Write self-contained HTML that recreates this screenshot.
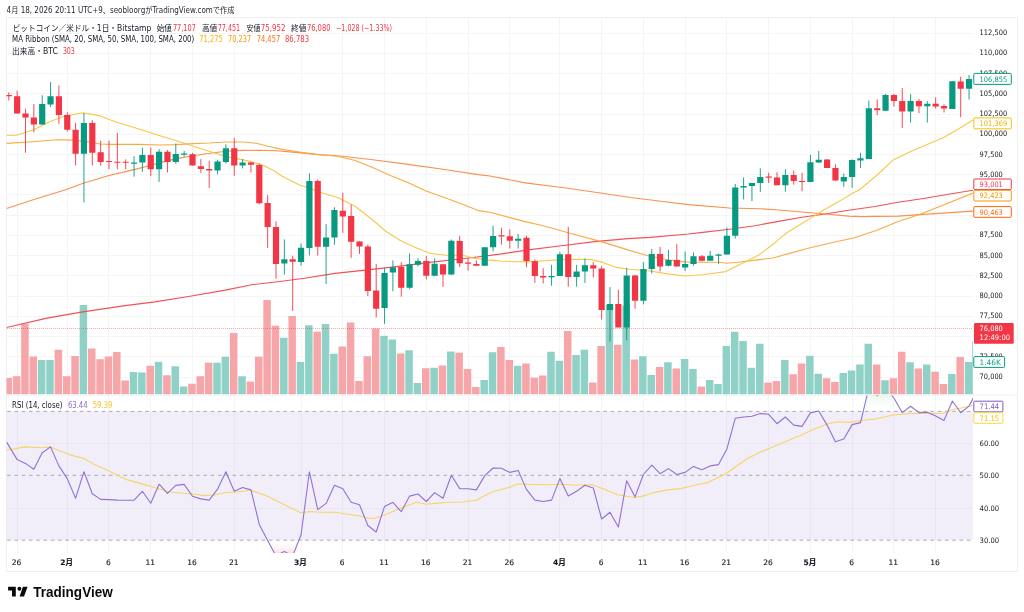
<!DOCTYPE html>
<html><head><meta charset="utf-8"><title>BTCUSD chart</title>
<style>
html,body{margin:0;padding:0;background:#fff;}
body{width:1024px;height:612px;overflow:hidden;position:relative;}
.frame{position:absolute;left:6px;top:17px;width:1010px;height:553px;border:1px solid #efeff1;}
svg{position:absolute;left:0;top:0;}
</style></head>
<body>
<div class="frame"></div>
<svg width="1024" height="612" viewBox="0 0 1024 612">
<defs>
<clipPath id="cm"><rect x="6.5" y="17.5" width="966.5" height="377.0"/></clipPath>
<clipPath id="cr"><rect x="6.5" y="395.5" width="966.5" height="157.5"/></clipPath>
<linearGradient id="gob" x1="0" y1="0" x2="0" y2="1"><stop offset="0" stop-color="#d3eed6" stop-opacity="1"/><stop offset="1" stop-color="#ffffff" stop-opacity="0"/></linearGradient>
<linearGradient id="gos" x1="0" y1="0" x2="0" y2="1"><stop offset="0" stop-color="#ffffff" stop-opacity="0"/><stop offset="1" stop-color="#f9c9cc" stop-opacity="0.9"/></linearGradient>
</defs>
<path d="M6.5 377.5H973.0 M6.5 356.5H973.0 M6.5 336.5H973.0 M6.5 316.5H973.0 M6.5 296.5H973.0 M6.5 275.5H973.0 M6.5 255.5H973.0 M6.5 235.5H973.0 M6.5 215.5H973.0 M6.5 194.5H973.0 M6.5 174.5H973.0 M6.5 154.5H973.0 M6.5 134.5H973.0 M6.5 114.5H973.0 M6.5 93.5H973.0 M6.5 73.5H973.0 M6.5 53.5H973.0 M6.5 33.5H973.0 M6.5 443.5H973.0 M6.5 508.5H973.0 M17.5 17.5V553.0 M67.5 17.5V553.0 M108.5 17.5V553.0 M150.5 17.5V553.0 M192.5 17.5V553.0 M234.5 17.5V553.0 M301.5 17.5V553.0 M342.5 17.5V553.0 M384.5 17.5V553.0 M426.5 17.5V553.0 M468.5 17.5V553.0 M509.5 17.5V553.0 M559.5 17.5V553.0 M601.5 17.5V553.0 M643.5 17.5V553.0 M685.5 17.5V553.0 M726.5 17.5V553.0 M768.5 17.5V553.0 M810.5 17.5V553.0 M852.5 17.5V553.0 M893.5 17.5V553.0 M935.5 17.5V553.0" stroke="#f5f5f6" stroke-width="1" fill="none"/>
<g clip-path="url(#cm)">
<path d="M4.5 377.9h7.5V394.4h-7.5zM12.85 376.3h7.5V394.4h-7.5zM21.2 323.7h7.5V394.4h-7.5zM29.55 356.4h7.5V394.4h-7.5zM54.6 349.8h7.5V394.4h-7.5zM62.95 376.3h7.5V394.4h-7.5zM71.3 355.9h7.5V394.4h-7.5zM88 348.4h7.5V394.4h-7.5zM96.35 359.2h7.5V394.4h-7.5zM104.7 356.4h7.5V394.4h-7.5zM113.05 352h7.5V394.4h-7.5zM121.4 380.4h7.5V394.4h-7.5zM146.45 365.8h7.5V394.4h-7.5zM163.15 375.2h7.5V394.4h-7.5zM188.2 383.7h7.5V394.4h-7.5zM196.55 376.2h7.5V394.4h-7.5zM204.9 362.8h7.5V394.4h-7.5zM229.95 332.9h7.5V394.4h-7.5zM246.65 381.6h7.5V394.4h-7.5zM255 356.8h7.5V394.4h-7.5zM263.35 299.9h7.5V394.4h-7.5zM271.7 325.7h7.5V394.4h-7.5zM288.4 315.9h7.5V394.4h-7.5zM313.45 331.8h7.5V394.4h-7.5zM338.5 346.5h7.5V394.4h-7.5zM346.85 322.5h7.5V394.4h-7.5zM355.2 381.1h7.5V394.4h-7.5zM363.55 356.3h7.5V394.4h-7.5zM371.9 328.5h7.5V394.4h-7.5zM396.95 353.5h7.5V394.4h-7.5zM422 368.2h7.5V394.4h-7.5zM438.7 365.6h7.5V394.4h-7.5zM455.4 352.8h7.5V394.4h-7.5zM463.75 369h7.5V394.4h-7.5zM472.1 387h7.5V394.4h-7.5zM497.15 347h7.5V394.4h-7.5zM505.5 359.9h7.5V394.4h-7.5zM522.2 363.6h7.5V394.4h-7.5zM530.55 377.8h7.5V394.4h-7.5zM538.9 375.6h7.5V394.4h-7.5zM563.95 331h7.5V394.4h-7.5zM589 382.4h7.5V394.4h-7.5zM597.35 346.1h7.5V394.4h-7.5zM614.05 344.8h7.5V394.4h-7.5zM630.75 359.5h7.5V394.4h-7.5zM655.8 366.9h7.5V394.4h-7.5zM672.5 368.5h7.5V394.4h-7.5zM697.55 386.5h7.5V394.4h-7.5zM764.35 382.4h7.5V394.4h-7.5zM772.7 381.1h7.5V394.4h-7.5zM789.4 374.2h7.5V394.4h-7.5zM797.75 363.6h7.5V394.4h-7.5zM822.8 378.3h7.5V394.4h-7.5zM831.15 381.9h7.5V394.4h-7.5zM872.9 364.4h7.5V394.4h-7.5zM889.6 378.3h7.5V394.4h-7.5zM897.95 351.7h7.5V394.4h-7.5zM914.65 368.5h7.5V394.4h-7.5zM931.35 371.8h7.5V394.4h-7.5zM939.7 384.1h7.5V394.4h-7.5zM956.4 357.1h7.5V394.4h-7.5z" fill="#f6a5a8"/>
<path d="M37.9 360.1h7.5V394.4h-7.5zM46.25 360.1h7.5V394.4h-7.5zM79.65 304.9h7.5V394.4h-7.5zM129.75 371.9h7.5V394.4h-7.5zM138.1 372.4h7.5V394.4h-7.5zM154.8 361.8h7.5V394.4h-7.5zM171.5 366.3h7.5V394.4h-7.5zM179.85 386.4h7.5V394.4h-7.5zM213.25 362.8h7.5V394.4h-7.5zM221.6 356.8h7.5V394.4h-7.5zM238.3 376.2h7.5V394.4h-7.5zM280.05 337.7h7.5V394.4h-7.5zM296.75 362h7.5V394.4h-7.5zM305.1 325.2h7.5V394.4h-7.5zM321.8 324.1h7.5V394.4h-7.5zM330.15 353.8h7.5V394.4h-7.5zM380.25 335.8h7.5V394.4h-7.5zM388.6 339.4h7.5V394.4h-7.5zM405.3 350.2h7.5V394.4h-7.5zM413.65 382.9h7.5V394.4h-7.5zM430.35 367.7h7.5V394.4h-7.5zM447.05 351.5h7.5V394.4h-7.5zM480.45 380h7.5V394.4h-7.5zM488.8 352.2h7.5V394.4h-7.5zM513.85 365.8h7.5V394.4h-7.5zM547.25 351.7h7.5V394.4h-7.5zM555.6 360.8h7.5V394.4h-7.5zM572.3 355h7.5V394.4h-7.5zM580.65 349.7h7.5V394.4h-7.5zM605.7 304.8h7.5V394.4h-7.5zM622.4 305.6h7.5V394.4h-7.5zM639.1 356.3h7.5V394.4h-7.5zM647.45 375.1h7.5V394.4h-7.5zM664.15 362.3h7.5V394.4h-7.5zM680.85 359.1h7.5V394.4h-7.5zM689.2 369h7.5V394.4h-7.5zM705.9 380h7.5V394.4h-7.5zM714.25 384h7.5V394.4h-7.5zM722.6 346.1h7.5V394.4h-7.5zM730.95 331.8h7.5V394.4h-7.5zM739.3 341.1h7.5V394.4h-7.5zM747.65 367.7h7.5V394.4h-7.5zM756 343.7h7.5V394.4h-7.5zM781.05 359.9h7.5V394.4h-7.5zM806.1 355.8h7.5V394.4h-7.5zM814.45 373.8h7.5V394.4h-7.5zM839.5 373.1h7.5V394.4h-7.5zM847.85 370.5h7.5V394.4h-7.5zM856.2 364.4h7.5V394.4h-7.5zM864.55 343.7h7.5V394.4h-7.5zM881.25 380.3h7.5V394.4h-7.5zM906.3 362.3h7.5V394.4h-7.5zM923 364.4h7.5V394.4h-7.5zM948.05 373.9h7.5V394.4h-7.5zM964.75 362h7.5V394.4h-7.5z" fill="#8fd1c7"/>
<path d="M972.2 341.2h1.2V394.4h-1.2z" fill="#8fd1c7"/>
<path d="M7 328.5H973.0" stroke="#F23645" stroke-width="1" stroke-dasharray="1 1" opacity="0.45"/>
<path d="M6.6 327.5 L46.9 318.1 L82.8 311.9 L125 305.6 L155 301.9 L190.1 296.3 L225.3 290.1 L251.7 284.7 L278 281.7 L304.4 278.2 L335 273.4 L363.2 270.4 L396.4 266.6 L429.7 262.4 L462.9 258.8 L500.1 254.1 L528.2 249.9 L561.4 245.8 L594.7 241.6 L627.9 238.6 L650 237.4 L688.4 234 L702.7 232.4 L729.4 229.2 L755 225.7 L778.4 221.4 L801.9 217.3 L825 214 L848.8 210.2 L875 206.5 L898.2 202.3 L925 198.2 L950 194 L973 190.2" stroke="#f3474d" stroke-width="1.1" fill="none" stroke-linejoin="round" opacity="0.95"/>
<path d="M6.6 208.5 L33.2 199.8 L66.4 189.5 L83.1 183.2 L108 175.7 L132.9 169.9 L149.5 165.8 L160 162.6 L176.6 158.6 L193.2 155.7 L209.8 153.3 L226.4 151.3 L243.1 150.4 L259.7 150.3 L276.3 150.8 L292.9 152.1 L309.5 153.6 L320 154.7 L342.8 156.2 L372.7 159.7 L407.9 164.4 L443 169.3 L478.2 174.6 L490 176 L525.1 182.9 L560.3 187.3 L595.4 192.3 L630.6 197.5 L661 201.2 L688.4 204.6 L729.4 208 L760 208.7 L778.4 210 L801.9 212 L825.3 214 L848.8 216.1 L861.6 216.6 L875 216.4 L898.2 216.1 L934.9 213.6 L973 211.1" stroke="#f98a45" stroke-width="1.1" fill="none" stroke-linejoin="round" opacity="0.95"/>
<path d="M6.5 143.4 L32.7 141.7 L57.2 139.8 L71.9 140.1 L88.2 141.7 L100 144 L111.1 144.4 L138.9 144.4 L160 145 L176.6 144.6 L193.2 143.6 L209.8 143 L226.4 142 L243.1 142 L256.3 143.3 L268 146.3 L284.6 149.9 L301.2 152.4 L317.8 154.6 L330 155.5 L337.6 156.2 L355.1 160.5 L372.7 167.6 L390.3 175.5 L407.9 182.5 L425.4 190.8 L443 197.1 L460.6 203.6 L478.2 210.6 L490 212.3 L525.1 221.6 L539.9 225 L551.5 228 L569.8 233.3 L601.3 241.6 L627.9 249.9 L647.8 255.7 L667.6 259.8 L685.1 261.9 L702.7 262.3 L720.3 262.3 L726.4 263.3 L737.9 262.3 L755.4 260.1 L773 258 L790.6 253.1 L808.2 248.2 L825 244.3 L854.3 237.7 L876.3 230.4 L898.2 221.6 L920.2 214.3 L942.2 205.5 L973 193.1" stroke="#f8a73a" stroke-width="1.1" fill="none" stroke-linejoin="round" opacity="0.95"/>
<path d="M6.5 135.2 L16.3 135.2 L32.7 130.3 L49 122.1 L65.4 115.9 L83.3 112.8 L100 115.9 L116.7 122.2 L133.3 127.2 L150 132.6 L160 135.8 L176.6 140.8 L193.2 146.3 L209.8 151.6 L226.4 156.6 L243.1 159.9 L259.7 164.1 L264.2 165.8 L273 170.3 L281.8 176 L299.4 185 L310 188.2 L320 192.2 L337.6 197.5 L355.1 206.2 L372.7 220 L385.4 231 L399.8 240.3 L413 246.6 L429.7 253.3 L446.3 255.3 L462.9 255.3 L474.5 258.3 L487.8 259.9 L500.1 261 L511.6 261.5 L528.2 261.9 L544.8 260.7 L561.4 259.6 L578.1 259.2 L591.3 259.6 L603 262.4 L616.3 267.4 L627.9 269 L650 271 L667.6 273.9 L685.1 276 L702.7 274.7 L725.6 271.6 L741.4 263.7 L759 254.9 L773 244.3 L785.3 233.8 L799.4 225 L810 218.6 L825 209.2 L839.6 201.1 L854.3 192.3 L859.3 190 L877.1 175 L893 160.1 L910.1 151.8 L934.7 141.3 L943.2 137.7 L959.2 128.5 L975 118.7" stroke="#f6c53c" stroke-width="1.1" fill="none" stroke-linejoin="round" opacity="0.95"/>
<path d="M8.8 92.4V100.5 M17.15 90.7V113.8 M25.5 108.7V152.7 M33.85 104.1V132.4 M58.9 85.4V123.8 M67.25 112.3V131.6 M75.6 122.9V165.4 M92.3 120.2V165.4 M100.65 140.7V165.6 M109 140.7V169.2 M117.35 132.9V169.2 M125.7 159.3V169.2 M150.75 147.3V176.2 M167.45 150V172.4 M192.5 152.9V165.9 M200.85 159.1V172.8 M209.2 160.7V188 M234.25 137.8V175.8 M250.95 161.9V172.5 M259.3 163.5V204.3 M267.65 194.9V248.1 M276 221.5V278.8 M292.7 255.8V311 M317.75 179.5V255.6 M342.8 192.9V232.9 M351.15 204.6V257.9 M359.5 241.1V253.9 M367.85 244.4V296.1 M376.2 264V317.5 M401.25 262.1V296.7 M426.3 255.8V279.5 M443 264V286.9 M459.7 235.9V267 M468.05 258.3V270.6 M476.4 260.4V265.7 M501.45 227.7V244.7 M509.8 229.4V248.5 M526.5 235.7V267.4 M534.85 259.5V282.9 M543.2 268.2V283.4 M568.25 226.9V286.7 M593.3 262.2V277.4 M601.65 266.1V319.6 M618.35 289.8V327.4 M635.05 274.6V308.8 M660.1 246.9V271.4 M676.8 244.1V266.5 M701.85 255V261.5 M768.65 172.8V183.1 M777 172.2V185.2 M793.7 170.8V184.7 M802.05 172.8V191.3 M827.1 159.1V167.9 M835.45 164.1V181 M877.2 99.4V115.2 M893.9 94V106.6 M902.25 88V127.9 M918.95 99V113.2 M935.65 97.3V108.6 M944 104.2V112.5 M960.7 76.7V117.3" stroke="#F23645" stroke-width="0.9" fill="none"/>
<path d="M5.7 95h6.2V96.2h-6.2zM14.05 96.3h6.2V113.6h-6.2zM22.4 113.5h6.2V117.5h-6.2zM30.75 117.5h6.2V124.6h-6.2zM55.8 96.3h6.2V115.1h-6.2zM64.15 115.1h6.2V129.8h-6.2zM72.5 129.8h6.2V153.7h-6.2zM89.2 122.9h6.2V152.7h-6.2zM97.55 152.2h6.2V162h-6.2zM105.9 160.9h6.2V162.1h-6.2zM114.25 161.65h6.2V162.85h-6.2zM122.6 161.65h6.2V162.85h-6.2zM147.65 154.9h6.2V169.2h-6.2zM164.35 151.7h6.2V162h-6.2zM189.4 154.2h6.2V165.6h-6.2zM197.75 166.3h6.2V168.9h-6.2zM206.1 168.9h6.2V170.4h-6.2zM231.15 148.3h6.2V165.6h-6.2zM247.85 162.4h6.2V164.8h-6.2zM256.2 165.1h6.2V203.3h-6.2zM264.55 203.1h6.2V227h-6.2zM272.9 226.9h6.2V264.1h-6.2zM289.6 259.2h6.2V261.8h-6.2zM314.65 181.1h6.2V246.8h-6.2zM339.7 210.8h6.2V216.6h-6.2zM348.05 216h6.2V241.7h-6.2zM356.4 241.6h6.2V246.4h-6.2zM364.75 246.4h6.2V291.1h-6.2zM373.1 290.5h6.2V308.8h-6.2zM398.15 267h6.2V287.7h-6.2zM423.2 261.1h6.2V275.8h-6.2zM439.9 264.3h6.2V274.6h-6.2zM456.6 241.1h6.2V263.2h-6.2zM464.95 262.4h6.2V263.7h-6.2zM473.3 264h6.2V265.7h-6.2zM498.35 235.2h6.2V236.4h-6.2zM506.7 236.2h6.2V240.7h-6.2zM523.4 237.8h6.2V261h-6.2zM531.75 261.2h6.2V275.9h-6.2zM540.1 275.9h6.2V277.5h-6.2zM565.15 254.3h6.2V276.9h-6.2zM590.2 265.3h6.2V268.6h-6.2zM598.55 268.6h6.2V309.9h-6.2zM615.25 303.9h6.2V327.4h-6.2zM631.95 275.6h6.2V300.7h-6.2zM657 253.9h6.2V266.5h-6.2zM673.7 259.9h6.2V266.5h-6.2zM698.75 256.3h6.2V260.7h-6.2zM765.55 176.6h6.2V177.8h-6.2zM773.9 177.6h6.2V185.2h-6.2zM790.6 174.9h6.2V181h-6.2zM798.95 180.9h6.2V182.1h-6.2zM824 159.4h6.2V167.9h-6.2zM832.35 168.1h6.2V180.6h-6.2zM874.1 108.2h6.2V110.3h-6.2zM890.8 95.1h6.2V101h-6.2zM899.15 101.1h6.2V111.5h-6.2zM915.85 101.1h6.2V106.3h-6.2zM932.55 103.8h6.2V106.4h-6.2zM940.9 106h6.2V108.6h-6.2zM957.6 81.6h6.2V88.8h-6.2z" fill="#F23645"/>
<path d="M42.2 95.2V124.6 M50.55 82.1V107.1 M83.95 113.1V202.4 M134.05 156.2V176.7 M142.4 147.6V171.8 M159.1 149.2V181.9 M175.8 143.5V163.9 M184.15 150.8V156.6 M217.55 159.7V174.4 M225.9 144.4V163.5 M242.6 159.1V168.4 M284.35 239.4V274.5 M301.05 243.5V265.7 M309.4 173.3V255.4 M326.1 223.9V284 M334.45 207.3V244.6 M384.55 268.1V323.8 M392.9 260.4V291.3 M409.6 253.4V289.2 M417.95 258.3V266.5 M434.65 258.3V276.3 M451.35 239.5V275.1 M484.75 247.2V265.7 M493.1 225.6V251.3 M518.15 233.8V248.5 M551.55 264.9V285.7 M559.9 251.9V275.9 M576.6 264.9V286.7 M584.95 258.4V282.9 M610 287.1V341.6 M626.7 267.8V340.3 M643.4 262.1V304.4 M651.75 249V273.5 M668.45 249.8V266.5 M685.15 251.5V271 M693.5 252.5V265.6 M710.2 250.9V260.7 M718.55 253.7V264 M726.9 227.5V254.6 M735.25 183.9V238.6 M743.6 177.4V199.4 M751.95 183.1V201.1 M760.3 168.4V191.8 M785.35 169.2V191.8 M810.4 154.8V182 M818.75 150.9V163 M843.8 173.5V186.8 M852.15 159.3V187.7 M860.5 152.8V168 M868.85 100.5V158.9 M885.55 94V110.8 M910.6 94.1V122.5 M927.3 101.1V122.5 M952.35 80.9V109 M969.05 75V99.5" stroke="#089981" stroke-width="0.9" fill="none"/>
<path d="M39.1 104.1h6.2V124.6h-6.2zM47.45 96.3h6.2V104.5h-6.2zM80.85 122.9h6.2V153.7h-6.2zM130.95 162.5h6.2V163.7h-6.2zM139.3 154.9h6.2V162.6h-6.2zM156 151.7h6.2V169.2h-6.2zM172.7 154.1h6.2V162h-6.2zM181.05 153.5h6.2V154.7h-6.2zM214.45 161.4h6.2V170.5h-6.2zM222.8 148.3h6.2V161.9h-6.2zM239.5 162.4h6.2V165.6h-6.2zM281.25 259.2h6.2V263.4h-6.2zM297.95 247.7h6.2V261.9h-6.2zM306.3 181.1h6.2V248.1h-6.2zM323 237.4h6.2V246.8h-6.2zM331.35 210h6.2V237.6h-6.2zM381.45 273.1h6.2V308h-6.2zM389.8 267.3h6.2V272.5h-6.2zM406.5 264.3h6.2V287.7h-6.2zM414.85 261.1h6.2V264.8h-6.2zM431.55 263.7h6.2V275.8h-6.2zM448.25 240.8h6.2V274.6h-6.2zM481.65 247.2h6.2V265.7h-6.2zM490 235.9h6.2V247.2h-6.2zM515.05 238.7h6.2V240.7h-6.2zM548.45 275.9h6.2V277.2h-6.2zM556.8 254.3h6.2V275.9h-6.2zM573.5 271.5h6.2V276.9h-6.2zM581.85 265.3h6.2V271.5h-6.2zM606.9 303.9h6.2V309.9h-6.2zM623.6 275.6h6.2V327.6h-6.2zM640.3 269.1h6.2V300.7h-6.2zM648.65 253.9h6.2V269.1h-6.2zM665.35 259.9h6.2V265.8h-6.2zM682.05 263.9h6.2V267.4h-6.2zM690.4 256.3h6.2V264h-6.2zM707.1 255.8h6.2V260.7h-6.2zM715.45 254.6h6.2V255.8h-6.2zM723.8 235.7h6.2V254.6h-6.2zM732.15 187.6h6.2V235.7h-6.2zM740.5 185.9h6.2V187.5h-6.2zM748.85 183.1h6.2V185.9h-6.2zM757.2 177.1h6.2V183.1h-6.2zM782.25 174.9h6.2V185.2h-6.2zM807.3 162.2h6.2V182h-6.2zM815.65 159.7h6.2V162.4h-6.2zM840.7 177h6.2V181.4h-6.2zM849.05 160h6.2V177h-6.2zM857.4 158.2h6.2V160.5h-6.2zM865.75 108.2h6.2V158.9h-6.2zM882.45 95.1h6.2V110.8h-6.2zM907.5 101.1h6.2V111.5h-6.2zM924.2 103.8h6.2V106.3h-6.2zM949.25 81.2h6.2V109h-6.2zM965.95 79h6.2V88.8h-6.2z" fill="#089981"/>
</g>
<path d="M6.5 395H1017" stroke="#eceef2" stroke-width="1"/>
<g clip-path="url(#cr)">
<rect x="6.5" y="411.4" width="966.5" height="128.8" fill="#7e57c2" fill-opacity="0.1"/>
<path d="M816.99 411.4 L818.75 411 L818.99 411.4ZM863.2 411.4 L868.85 388 L877.2 395.9 L885.55 388 L893.9 398 L901.56 411.4ZM903.84 411.4 L910.6 406.3 L917.36 411.4ZM947.87 411.4 L952.35 401 L959.71 411.4ZM962.44 411.4 L969.05 406.1 L977.4 390 L977.4 411.4Z" fill="url(#gob)"/>
<path d="M267.44 540.2 L267.65 540.6 L276 556 L284.35 551.4 L292.7 556 L298.89 540.2Z" fill="url(#gos)"/>
<path d="M6.5 411.4H973.0" stroke="#8e919a" stroke-width="1" stroke-dasharray="3.5 3.77" stroke-dashoffset="-0.69" opacity="0.75"/>
<path d="M6.5 475.3H973.0" stroke="#8e919a" stroke-width="1" stroke-dasharray="3.5 3.77" stroke-dashoffset="-0.69" opacity="0.75"/>
<path d="M6.5 540.2H973.0" stroke="#8e919a" stroke-width="1" stroke-dasharray="3.5 3.77" stroke-dashoffset="-0.69" opacity="0.75"/>
<path d="M6.5 450.2 L25 446.9 L42 447.7 L50.5 446.9 L67 453.8 L76 456.6 L83.5 458.3 L92.5 463.4 L109 471 L119 476 L127.6 479.9 L145.3 484.9 L160.5 489.2 L170.6 492 L183.3 493.3 L196 494.3 L203.6 495.6 L213.7 495 L226.4 492.5 L239 491.8 L250 490 L267 496.1 L280.4 502.8 L300.7 512.8 L310 511.5 L320.9 512.3 L334.4 512.3 L347.8 514.2 L358.6 515.8 L368.1 518.2 L374.8 518.2 L384.3 515 L400.4 508.2 L416.6 502.3 L426 504.2 L435.5 503.4 L449 502.3 L462.5 502 L476 500.2 L484 496.1 L493.5 491.5 L509.7 487.2 L517.7 484 L533.9 484.5 L550 484.8 L560.9 484 L574.4 485.3 L591.9 484.8 L601.3 488 L617.5 494.8 L633.7 497.5 L643.1 496.1 L653.9 492.6 L667.4 489.9 L680.9 488.6 L694.4 485.3 L707.8 482.6 L718.6 477.2 L727 473 L733.5 468.2 L747 458.8 L760.4 452 L773.9 446.6 L787.4 440.7 L800.9 435.3 L814.4 429.1 L827.8 423.7 L838.6 421.8 L849.9 422.4 L860.5 420.5 L875 419 L893 415 L910 413.5 L930 413.5 L942.9 413.3 L951.9 409.8 L961.3 408 L973 405.5" stroke="#f7d466" stroke-width="1.1" fill="none" stroke-linejoin="round" opacity="1"/>
<path d="M6.5 441.9 L17.15 459.6 L25.5 463.4 L33.85 469.2 L42.2 452.8 L50.55 446.9 L58.9 465.9 L67.25 478.6 L75.6 498.3 L83.95 471.7 L92.3 493.8 L100.65 499.4 L109 499.6 L117.35 500.1 L125.7 500.3 L134.05 500.1 L142.4 491.3 L150.75 503.2 L159.1 484.2 L167.45 493.3 L175.8 485.4 L184.15 484.4 L192.5 496.3 L200.85 498.9 L209.2 500.1 L217.55 489.2 L225.9 471.7 L234.25 491.3 L242.6 487.5 L250.95 489.9 L259.3 524.4 L267.65 540.6 L276 556 L284.35 551.4 L292.7 556 L301.05 534.7 L309.4 471.8 L317.75 509.6 L326.1 503.4 L334.45 485.3 L342.8 488.8 L351.15 502.3 L359.5 504.7 L367.85 525.5 L376.2 532 L384.55 506.4 L392.9 502.3 L401.25 511.7 L409.6 496.1 L417.95 494 L426.3 501.5 L434.65 492.6 L443 498.3 L451.35 475.3 L459.7 488.6 L468.05 488.8 L476.4 489.9 L484.75 475.6 L493.1 468 L501.45 468.3 L509.8 472.4 L518.15 470.5 L526.5 489.4 L534.85 500.1 L543.2 501.5 L551.55 500.1 L559.9 478.6 L568.25 496.1 L576.6 491.3 L584.95 485.3 L593.3 488 L601.65 519 L610 512.3 L618.35 527.1 L626.7 480.7 L635.05 496.9 L643.4 474.5 L651.75 465.1 L660.1 473.7 L668.45 468.6 L676.8 474.5 L685.15 472.4 L693.5 466.4 L701.85 469.7 L710.2 465.9 L718.55 464.6 L726.9 448.9 L735.25 418.3 L743.6 417 L751.95 416.2 L760.3 413.5 L768.65 414.3 L777 423.7 L785.35 417 L793.7 425.1 L802.05 426.4 L810.4 412.9 L818.75 411 L827.1 425.1 L835.45 441.8 L843.8 439 L852.15 424.6 L860.5 422.6 L868.85 388 L877.2 395.9 L885.55 388 L893.9 398 L902.25 412.6 L910.6 406.3 L918.95 412.6 L927.3 412.2 L935.65 416 L944 420.4 L952.35 401 L960.7 412.8 L969.05 406.1 L977.4 390" stroke="#9171d3" stroke-width="1.1" fill="none" stroke-linejoin="round" opacity="1"/>
</g>
<g font-family="'DejaVu Sans', 'Noto Sans CJK JP', sans-serif" font-size="7.5" fill="#131722"><text x="979.6" y="379.1" textLength="23.25" lengthAdjust="spacingAndGlyphs" fill="#131722">70,000</text><text x="979.6" y="318.39" textLength="23.25" lengthAdjust="spacingAndGlyphs" fill="#131722">77,500</text><text x="979.6" y="298.16" textLength="23.25" lengthAdjust="spacingAndGlyphs" fill="#131722">80,000</text><text x="979.6" y="277.92" textLength="23.25" lengthAdjust="spacingAndGlyphs" fill="#131722">82,500</text><text x="979.6" y="257.69" textLength="23.25" lengthAdjust="spacingAndGlyphs" fill="#131722">85,000</text><text x="979.6" y="237.45" textLength="23.25" lengthAdjust="spacingAndGlyphs" fill="#131722">87,500</text><text x="979.6" y="217.22" textLength="23.25" lengthAdjust="spacingAndGlyphs" fill="#131722">90,000</text><text x="979.6" y="176.75" textLength="23.25" lengthAdjust="spacingAndGlyphs" fill="#131722">95,000</text><text x="979.6" y="156.51" textLength="23.25" lengthAdjust="spacingAndGlyphs" fill="#131722">97,500</text><text x="979.6" y="136.28" textLength="27.53" lengthAdjust="spacingAndGlyphs" fill="#131722">100,000</text><text x="979.6" y="116.04" textLength="27.53" lengthAdjust="spacingAndGlyphs" fill="#131722">102,500</text><text x="979.6" y="95.81" textLength="27.53" lengthAdjust="spacingAndGlyphs" fill="#131722">105,000</text><text x="979.6" y="55.34" textLength="27.53" lengthAdjust="spacingAndGlyphs" fill="#131722">110,000</text><text x="979.6" y="35.1" textLength="27.53" lengthAdjust="spacingAndGlyphs" fill="#131722">112,500</text><text x="979.6" y="445.5" textLength="19.52" lengthAdjust="spacingAndGlyphs" fill="#131722">60.00</text><text x="979.6" y="477.6" textLength="19.52" lengthAdjust="spacingAndGlyphs" fill="#131722">50.00</text><text x="979.6" y="510.5" textLength="19.52" lengthAdjust="spacingAndGlyphs" fill="#131722">40.00</text><text x="979.6" y="542.5" textLength="19.52" lengthAdjust="spacingAndGlyphs" fill="#131722">30.00</text><text x="979.6" y="75.57" textLength="27.53" lengthAdjust="spacingAndGlyphs" fill="#131722">107,500</text><text x="979.6" y="358.86" textLength="23.25" lengthAdjust="spacingAndGlyphs" fill="#131722">72,500</text></g>
<g font-family="'DejaVu Sans', 'Noto Sans CJK JP', sans-serif" font-size="7.5" fill="#131722" stroke="#131722" stroke-width="0.12" text-anchor="middle"><text x="16.55" y="565.4">26</text><text x="66.65" y="565.4" font-weight="bold">2月</text><text x="108.4" y="565.4">6</text><text x="150.15" y="565.4">11</text><text x="191.9" y="565.4">16</text><text x="233.65" y="565.4">21</text><text x="300.45" y="565.4" font-weight="bold">3月</text><text x="342.2" y="565.4">6</text><text x="383.95" y="565.4">11</text><text x="425.7" y="565.4">16</text><text x="467.45" y="565.4">21</text><text x="509.2" y="565.4">26</text><text x="559.3" y="565.4" font-weight="bold">4月</text><text x="601.05" y="565.4">6</text><text x="642.8" y="565.4">11</text><text x="684.55" y="565.4">16</text><text x="726.3" y="565.4">21</text><text x="768.05" y="565.4">26</text><text x="809.8" y="565.4" font-weight="bold">5月</text><text x="851.55" y="565.4">6</text><text x="893.3" y="565.4">11</text><text x="935.05" y="565.4">16</text></g>
<rect x="973.8" y="73.4" width="37.5" height="11" rx="1" fill="#ffffff" stroke="#089981" stroke-width="1"/><g font-family="'DejaVu Sans', 'Noto Sans CJK JP', sans-serif" font-size="7.5"><text x="979.6" y="81.5" textLength="27.53" lengthAdjust="spacingAndGlyphs" fill="#089981">106,855</text></g>
<rect x="973.8" y="117.9" width="37.5" height="10.9" rx="1" fill="#ffffff" stroke="#f6c309" stroke-width="1"/><g font-family="'DejaVu Sans', 'Noto Sans CJK JP', sans-serif" font-size="7.5"><text x="979.6" y="125.95" textLength="27.53" lengthAdjust="spacingAndGlyphs" fill="#e8b400">101,369</text></g>
<rect x="973.8" y="179.0" width="37.5" height="10.6" rx="1" fill="#ffffff" stroke="#f23645" stroke-width="1"/><g font-family="'DejaVu Sans', 'Noto Sans CJK JP', sans-serif" font-size="7.5"><text x="979.6" y="186.9" textLength="23.25" lengthAdjust="spacingAndGlyphs" fill="#f23645">93,001</text></g>
<rect x="973.8" y="190.3" width="37.5" height="10.7" rx="1" fill="#ffffff" stroke="#fb9800" stroke-width="1"/><g font-family="'DejaVu Sans', 'Noto Sans CJK JP', sans-serif" font-size="7.5"><text x="979.6" y="198.25" textLength="23.25" lengthAdjust="spacingAndGlyphs" fill="#f59300">92,423</text></g>
<rect x="973.8" y="206.6" width="37.5" height="10.7" rx="1" fill="#ffffff" stroke="#fb6500" stroke-width="1"/><g font-family="'DejaVu Sans', 'Noto Sans CJK JP', sans-serif" font-size="7.5"><text x="979.6" y="214.55" textLength="23.25" lengthAdjust="spacingAndGlyphs" fill="#f26a10">90,463</text></g>
<rect x="973.8" y="356.6" width="30.8" height="10.8" rx="1" fill="#ffffff" stroke="#089981" stroke-width="1"/><g font-family="'DejaVu Sans', 'Noto Sans CJK JP', sans-serif" font-size="7.5"><text x="979.6" y="364.6" textLength="21.24" lengthAdjust="spacingAndGlyphs" fill="#089981">1.46K</text></g>
<rect x="973.8" y="401.2" width="29.1" height="10.7" rx="1" fill="#ffffff" stroke="#7e57c2" stroke-width="1"/><g font-family="'DejaVu Sans', 'Noto Sans CJK JP', sans-serif" font-size="7.5"><text x="979.6" y="409.15" textLength="19.52" lengthAdjust="spacingAndGlyphs" fill="#7e57c2">71.44</text></g>
<rect x="973.8" y="412.7" width="29.1" height="10.6" rx="1" fill="#ffffff" stroke="#fdd835" stroke-width="1"/><g font-family="'DejaVu Sans', 'Noto Sans CJK JP', sans-serif" font-size="7.5"><text x="979.6" y="420.6" textLength="19.52" lengthAdjust="spacingAndGlyphs" fill="#f2c400">71.15</text></g>
<rect x="974" y="323.1" width="39.7" height="20.6" rx="1" fill="#F23645"/>
<g font-family="'DejaVu Sans', 'Noto Sans CJK JP', sans-serif" font-size="7.5"><text x="979.6" y="331" textLength="23.25" lengthAdjust="spacingAndGlyphs" fill="#ffffff">76,080</text><text x="979.6" y="340.2" textLength="30.4" lengthAdjust="spacingAndGlyphs" fill="#ffffff">12:49:00</text></g>
<g font-family="'DejaVu Sans', 'Noto Sans CJK JP', sans-serif"><text x="6.6" y="12.8" font-size="8.2" fill="#1e222d" textLength="227.8" lengthAdjust="spacingAndGlyphs">4月 18, 2026 20:11 UTC+9、seobloorgがTradingView.comで作成</text><text x="12.7" y="30.9" font-size="8.2" fill="#131722" textLength="138.7" lengthAdjust="spacingAndGlyphs">ビットコイン／米ドル・1日・Bitstamp</text><text x="156.8" y="30.9" font-size="8.2" fill="#131722" textLength="15.1" lengthAdjust="spacingAndGlyphs">始値</text><text x="172.9" y="30.9" font-size="8.2" fill="#F23645" textLength="23" lengthAdjust="spacingAndGlyphs">77,107</text><text x="201.9" y="30.9" font-size="8.2" fill="#131722" textLength="15.4" lengthAdjust="spacingAndGlyphs">高値</text><text x="217.7" y="30.9" font-size="8.2" fill="#F23645" textLength="22.5" lengthAdjust="spacingAndGlyphs">77,451</text><text x="246.4" y="30.9" font-size="8.2" fill="#131722" textLength="14" lengthAdjust="spacingAndGlyphs">安値</text><text x="260.8" y="30.9" font-size="8.2" fill="#F23645" textLength="24.6" lengthAdjust="spacingAndGlyphs">75,952</text><text x="290.9" y="30.9" font-size="8.2" fill="#131722" textLength="15.5" lengthAdjust="spacingAndGlyphs">終値</text><text x="306.9" y="30.9" font-size="8.2" fill="#F23645" textLength="23.6" lengthAdjust="spacingAndGlyphs">76,080</text><text x="336" y="30.9" font-size="8.2" fill="#F23645" textLength="56" lengthAdjust="spacingAndGlyphs">−1,028 (−1.33%)</text><text x="12.1" y="42.4" font-size="8.2" fill="#131722" textLength="182.2" lengthAdjust="spacingAndGlyphs">MA Ribbon (SMA, 20, SMA, 50, SMA, 100, SMA, 200)</text><text x="199.2" y="42.4" font-size="8.2" fill="#f2b705" textLength="23.6" lengthAdjust="spacingAndGlyphs">71,275</text><text x="228" y="42.4" font-size="8.2" fill="#f89a0c" textLength="23.1" lengthAdjust="spacingAndGlyphs">70,237</text><text x="256.7" y="42.4" font-size="8.2" fill="#f7701a" textLength="23.5" lengthAdjust="spacingAndGlyphs">74,457</text><text x="285" y="42.4" font-size="8.2" fill="#f23645" textLength="24" lengthAdjust="spacingAndGlyphs">86,783</text><text x="12.1" y="53.6" font-size="8.2" fill="#131722" textLength="45.9" lengthAdjust="spacingAndGlyphs">出来高・BTC</text><text x="62.9" y="53.6" font-size="8.2" fill="#F23645" textLength="11.9" lengthAdjust="spacingAndGlyphs">303</text><text x="12.1" y="407.7" font-size="8.2" fill="#131722" textLength="50.5" lengthAdjust="spacingAndGlyphs">RSI (14, close)</text><text x="67.9" y="407.7" font-size="8.2" fill="#8c6bcf" textLength="19.7" lengthAdjust="spacingAndGlyphs">63.44</text><text x="92.7" y="407.7" font-size="8.2" fill="#f5c431" textLength="19.7" lengthAdjust="spacingAndGlyphs">59.39</text><text x="33.3" y="596.8" font-size="14.2" fill="#0a0a0a" font-weight="bold" font-family="'Liberation Sans', sans-serif" textLength="79.4" lengthAdjust="spacingAndGlyphs">TradingView</text></g>
<g fill="#0a0a0a"><path d="M8.1 586.7H15.8V596.6H12.0V590.6H8.1Z"/><circle cx="19.4" cy="588.7" r="1.95"/><path d="M22.9 586.7H27.6L24.0 596.6H19.6Z"/></g>
</svg>
</body></html>
